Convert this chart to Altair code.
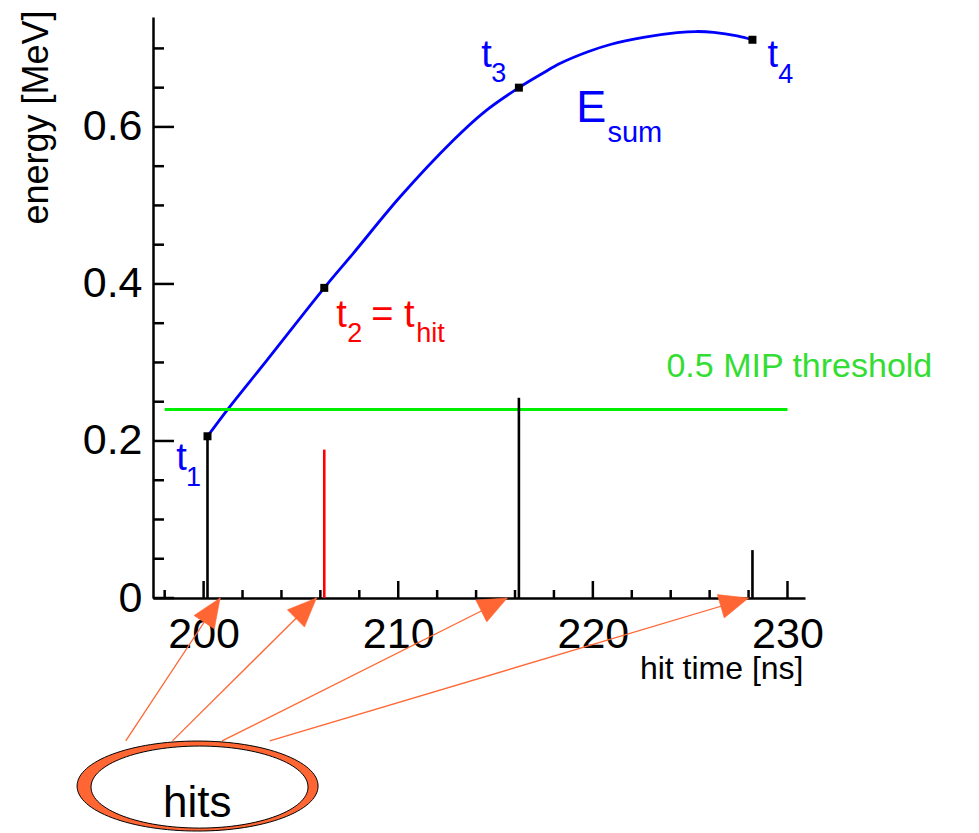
import math
import altair as alt
import pandas as pd

FONT = "Liberation Sans"
BLUE = "#0000FF"
RED = "#FF0000"
GREEN = "#00EE00"
GREEN_TXT = "#33DD33"
ORANGE = "#FF6633"

# plot area and axis ranges
W, H = 652, 581
X_MIN, X_MAX = 197.4, 230.9
Y_MIN, Y_MAX = 0.0, 0.74

# individual hits: time [ns], deposited energy [MeV]
hit_time = [200.2, 206.2, 216.2, 228.2]
hit_energy = [0.206, 0.189, 0.255, 0.061]
hit_color = ["black", "red", "black", "black"]

# running energy sum E_sum versus time
esum_time = [200.2, 201.26, 203.26, 206.2, 207.69, 210.1, 212.83, 214.37, 216.2,
             217.47, 218.33, 219.78, 220.9, 222.6, 224.33, 225.3, 226.21, 227.41, 228.2]
esum_energy = [0.206, 0.241, 0.303, 0.395, 0.439, 0.511, 0.583, 0.618, 0.650,
               0.669, 0.681, 0.696, 0.705, 0.714, 0.720, 0.7215, 0.7205, 0.716, 0.711]

# 0.5 MIP threshold level
threshold = 0.24
threshold_from, threshold_to = 198.0, 230.0

# axis ticks
x_major = [200, 210, 220, 230]
x_minor = [198, 202, 204, 206, 208, 212, 214, 216, 218, 222, 224, 226, 228]
y_major = [0.0, 0.2, 0.4, 0.6]
y_minor = [0.05, 0.1, 0.15, 0.25, 0.3, 0.35, 0.45, 0.5, 0.55, 0.65, 0.7]

# annotation labels (anchor in data units, left aligned, alphabetic baseline)
note_t = [198.59, 199.10, 206.81, 207.38, 208.61, 210.93, 214.27, 214.78,
          228.97, 229.52, 219.15, 220.75, 223.78]
note_e = [0.163, 0.143, 0.345, 0.326, 0.345, 0.326, 0.676, 0.657,
          0.676, 0.656, 0.606, 0.581, 0.2815]
note_text = ["t", "1", "t", "2", "= t", "hit", "t", "3", "t", "4", "E", "sum",
             "0.5 MIP threshold"]
note_size = [38, 27, 38, 27, 38, 27, 38, 27, 38, 27, 45, 29, 34]
note_color = [BLUE, BLUE, RED, RED, RED, RED, BLUE, BLUE, BLUE, BLUE, BLUE, BLUE,
              GREEN_TXT]

# arrows from the "hits" bubble to each hit on the time axis
arrow_tail_t = [196.0, 198.4, 200.95, 203.4]
arrow_tail_e = [-0.182, -0.182, -0.182, -0.182]
arrow_tip_t = [200.85, 205.8, 215.6, 228.0]
arrow_tip_e = [0.0, 0.0, 0.0, 0.0]

# "hits" bubble
bubble_t, bubble_e = 199.69, -0.2395
bubble_inner_t, bubble_inner_e = 199.79, -0.2408
bubble_text_t, bubble_text_e = 199.67, -0.279

xs = alt.Scale(domain=[X_MIN, X_MAX], nice=False, zero=False)
ys = alt.Scale(domain=[Y_MIN, Y_MAX], nice=False, zero=False)

px_per_x = W / (X_MAX - X_MIN)
px_per_y = H / (Y_MAX - Y_MIN)

axis_x = alt.Axis(values=x_major, ticks=False, grid=False, domainColor="black",
                  domainWidth=2.5, labelFont=FONT, labelFontSize=43,
                  labelColor="black", labelPadding=15, labelFlush=False,
                  labelOverlap=False, title="hit time [ns]", titleFont=FONT,
                  titleFontSize=32, titleFontWeight="normal", titleColor="black",
                  titleX=W - 2, titleY=80, titleAlign="right",
                  titleBaseline="alphabetic")
axis_y = alt.Axis(values=y_major, ticks=False, grid=False, domainColor="black",
                  domainWidth=2.5, labelFont=FONT, labelFontSize=43,
                  labelColor="black", labelPadding=11, labelFlush=False,
                  labelOverlap=False, format="~g", title="energy [MeV]",
                  titleFont=FONT, titleFontSize=36, titleFontWeight="normal",
                  titleColor="black", titleAngle=270, titleX=-106, titleY=-7,
                  titleAlign="right", titleBaseline="alphabetic")


def X(field):
    return alt.X(field, scale=xs, axis=axis_x)


def Y(field):
    return alt.Y(field, scale=ys, axis=axis_y)


def ellipse_path(ratio):
    k = 0.5523
    b = ratio
    return (f"M-1,0C-1,{-k*b:.4f} {-k},{-b:.4f} 0,{-b:.4f}"
            f"C{k},{-b:.4f} 1,{-k*b:.4f} 1,0"
            f"C1,{k*b:.4f} {k},{b:.4f} 0,{b:.4f}"
            f"C{-k},{b:.4f} -1,{k*b:.4f} -1,0Z")


esum_at_hit = []
acc = 0.0
for e in hit_energy:
    acc += e
    esum_at_hit.append(round(acc, 4))

hits = pd.DataFrame({"t": hit_time, "e": hit_energy, "c": hit_color,
                     "zero": [0.0] * len(hit_time), "sum": esum_at_hit})
esum = pd.DataFrame({"t": esum_time, "e": esum_energy})

curve = alt.Chart(esum).mark_line(color=BLUE, strokeWidth=2.8,
                                  interpolate="catmull-rom").encode(
    x=X("t:Q"), y=Y("e:Q"),
)

thr = alt.Chart(pd.DataFrame({"t": [threshold_from], "t2": [threshold_to],
                              "e": [threshold]})).mark_rule(
    color=GREEN, strokeWidth=3).encode(
    x=X("t:Q"), x2="t2:Q", y=Y("e:Q"),
)

hit_lines = alt.Chart(hits).mark_rule(strokeWidth=2.6).encode(
    x=X("t:Q"), y=Y("zero:Q"), y2="e:Q",
    color=alt.Color("c:N", scale=None),
)

markers = alt.Chart(hits).mark_square(color="black", size=64, opacity=1).encode(
    x=X("t:Q"), y=Y("sum:Q"),
)


def tick_layer(vals, length, vertical_axis):
    df = pd.DataFrame({"v": vals})
    base = alt.Chart(df).mark_rule(color="black", strokeWidth=2.5)
    if vertical_axis:
        return base.encode(y=Y("v:Q"), x=alt.value(0), x2=alt.value(length))
    return base.encode(x=X("v:Q"), y=alt.value(H), y2=alt.value(H - length))


ticks = [tick_layer(y_major, 21, True), tick_layer(y_minor, 11, True),
         tick_layer(x_major, 17, False), tick_layer(x_minor, 8, False)]

notes = alt.Chart(pd.DataFrame({"t": note_t, "e": note_e, "txt": note_text,
                                "s": note_size, "c": note_color})).mark_text(
    align="left", baseline="alphabetic", font=FONT).encode(
    x=X("t:Q"), y=Y("e:Q"),
    text="txt:N",
    size=alt.Size("s:Q", scale=None),
    color=alt.Color("c:N", scale=None),
)

# arrows: shaft plus a triangular head rotated along the shaft
angles = []
for t0, e0, t1, e1 in zip(arrow_tail_t, arrow_tail_e, arrow_tip_t, arrow_tip_e):
    dx = (t1 - t0) * px_per_x
    dy = -(e1 - e0) * px_per_y
    ang = math.degrees(math.atan2(dx, -dy)) % 360
    angles.append(round(ang, 2))

arrows_df = pd.DataFrame({"t0": arrow_tail_t, "e0": arrow_tail_e,
                          "t1": arrow_tip_t, "e1": arrow_tip_e, "ang": angles})

shafts = alt.Chart(arrows_df).mark_rule(color=ORANGE, strokeWidth=1.3).encode(
    x=X("t0:Q"), x2="t1:Q", y=Y("e0:Q"), y2="e1:Q",
)

heads = alt.Chart(arrows_df).mark_point(
    shape="M0,0L-0.42,1L0.42,1Z", filled=True, fill=ORANGE, stroke=ORANGE,
    strokeWidth=0.5, size=(2 * 29) ** 2, opacity=1).encode(
    x=X("t1:Q"), y=Y("e1:Q"),
    angle=alt.Angle("ang:Q", scale=None),
)

bubble_outer = alt.Chart(pd.DataFrame({"t": [bubble_t], "e": [bubble_e]})).mark_point(
    shape=ellipse_path(45 / 120.5), filled=True, fill=ORANGE, stroke="black",
    strokeWidth=1, size=(2 * 120.5) ** 2, opacity=1).encode(
    x=X("t:Q"), y=Y("e:Q"),
)

bubble_inner = alt.Chart(pd.DataFrame({"t": [bubble_inner_t], "e": [bubble_inner_e]})).mark_point(
    shape=ellipse_path(41 / 108.5), filled=True, fill="white", stroke="black",
    strokeWidth=1, size=(2 * 108.5) ** 2, opacity=1).encode(
    x=X("t:Q"), y=Y("e:Q"),
)

bubble_text = alt.Chart(pd.DataFrame({"t": [bubble_text_t], "e": [bubble_text_e],
                                      "txt": ["hits"]})).mark_text(
    align="center", baseline="alphabetic", font=FONT, fontSize=44,
    color="black").encode(
    x=X("t:Q"), y=Y("e:Q"), text="txt:N",
)

chart = alt.layer(
    curve, thr, hit_lines, *ticks, markers, notes, shafts, heads,
    bubble_outer, bubble_inner, bubble_text,
).properties(
    width=W, height=H,
    padding={"left": 153, "top": 17, "right": 174, "bottom": 235},
    autosize=alt.AutoSizeParams(type="none"),
    background="white",
).configure_view(strokeWidth=0)

chart.save("out.html", embed_options={"renderer": "svg", "actions": False})
